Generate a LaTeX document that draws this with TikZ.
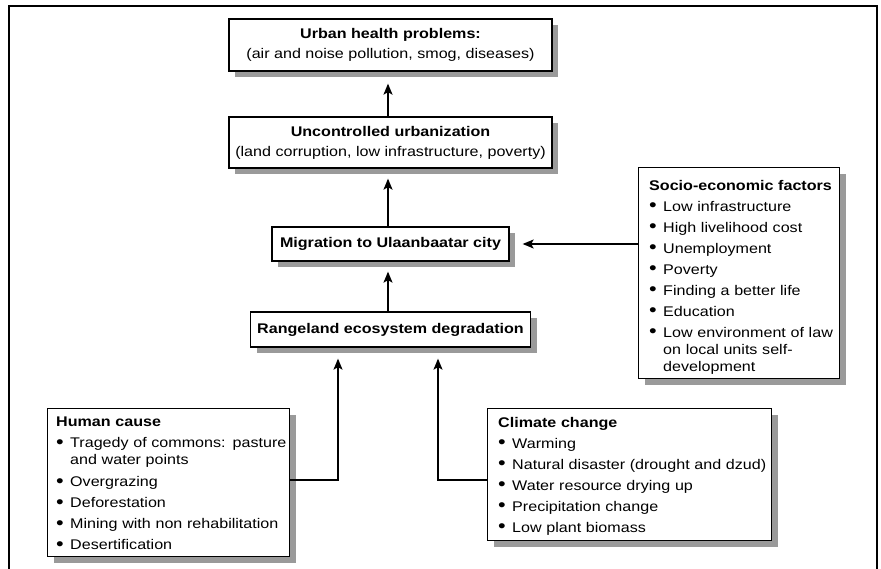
\documentclass[tikz,border=0pt]{standalone}
\usepackage{fontspec}
\usepackage{graphicx}
\setmainfont{Liberation Sans}[FakeStretch=1.15]
\usetikzlibrary{arrows.meta,shadows,calc}
\definecolor{shadowgray}{HTML}{9A9A9A}
\newcommand\bitem[1]{\par\vspace{4pt}\noindent\makebox[14pt][l]{\raisebox{-0.3pt}{\scalebox{1.35}{\textbullet}}}\begin{tabular}[t]{@{}l@{}}#1\end{tabular}\par}
\begin{document}
\begin{tikzpicture}[x=1pt,y=-1pt,
  font=\fontsize{14}{20}\selectfont,
  box/.style={draw=black, line width=1.3pt, fill=white, inner sep=0pt,
    drop shadow={shadow xshift=6pt, shadow yshift=-6pt, fill=shadowgray, opacity=1}},
  cbox/.style={box, align=center},
  ltext/.style={anchor=north west, inner sep=0pt, align=left,
    font=\fontsize{14}{17}\selectfont},
  arr/.style={draw=black, line width=1.5pt, -{Stealth[length=11pt,width=9pt,inset=2.5pt]}}]
\useasboundingbox (0,0) rectangle (881,569);
\fill[white] (0,0) rectangle (881,569);
% frame
\draw[line width=2.5pt] (9,590) -- (9,6) -- (877,6) -- (877,590);
% central boxes
\node[cbox, minimum width=323pt, minimum height=52pt] (top) at (390.5,45)
  {\textbf{Urban health problems:}\\(air and noise pollution, smog, diseases)};
\node[cbox, minimum width=323pt, minimum height=51pt] (urb) at (390.5,142.5)
  {\textbf{Uncontrolled urbanization}\\(land corruption, low infrastructure, poverty)};
\node[cbox, minimum width=237pt, minimum height=34pt] (mig) at (390.5,244)
  {\textbf{Migration to Ulaanbaatar city}};
\node[cbox, minimum width=280pt, minimum height=35pt] (range) at (390.5,329.5)
  {\textbf{Rangeland ecosystem degradation}};
% list boxes
\node[box, anchor=north west, minimum width=201pt, minimum height=211pt] (socio) at (638,167) {};
\node[ltext, text width=195pt] (sociot) at ([xshift=11pt,yshift=-13pt]socio.north west)
  {\textbf{Socio-economic factors}
   \bitem{Low infrastructure}
   \bitem{High livelihood cost}
   \bitem{Unemployment}
   \bitem{Poverty}
   \bitem{Finding a better life}
   \bitem{Education}
   \bitem{Low environment of law\\ on local units self-\\ development}};
\node[box, anchor=north west, minimum width=242pt, minimum height=148pt] (human) at (47,408) {};
\node[ltext, text width=250pt] (humant) at ([xshift=9pt,yshift=-9pt]human.north west)
  {\textbf{Human cause}
   \bitem{Tragedy of commons: pasture\\ and water points}
   \bitem{Overgrazing}
   \bitem{Deforestation}
   \bitem{Mining with non rehabilitation}
   \bitem{Desertification}};
\node[box, anchor=north west, minimum width=284pt, minimum height=132pt] (climate) at (487,408) {};
\node[ltext, text width=290pt] (climatet) at ([xshift=11pt,yshift=-9pt]climate.north west)
  {\textbf{Climate change}
   \bitem{Warming}
   \bitem{Natural disaster (drought and dzud)}
   \bitem{Water resource drying up}
   \bitem{Precipitation change}
   \bitem{Low plant biomass}};
% connectors
\draw[arr, shorten >=12pt] ([xshift=-2.5pt]urb.north) -- ([xshift=-2.5pt]top.south);
\draw[arr, shorten >=10pt] ([xshift=-2.5pt]mig.north) -- ([xshift=-2.5pt]urb.south);
\draw[arr, shorten >=10pt] ([xshift=-2.5pt]range.north) -- ([xshift=-2.5pt]mig.south);
\draw[arr, shorten >=13pt] (socio.west |- mig.east) -- (mig.east);
\coordinate (hj) at (338,480);
\coordinate (cj) at (438,480);
\draw[arr, shorten >=11pt] (human.east |- hj) -- (hj) -- (hj |- range.south);
\draw[arr, shorten >=11pt] (climate.west |- cj) -- (cj) -- (cj |- range.south);
\end{tikzpicture}
\end{document}
